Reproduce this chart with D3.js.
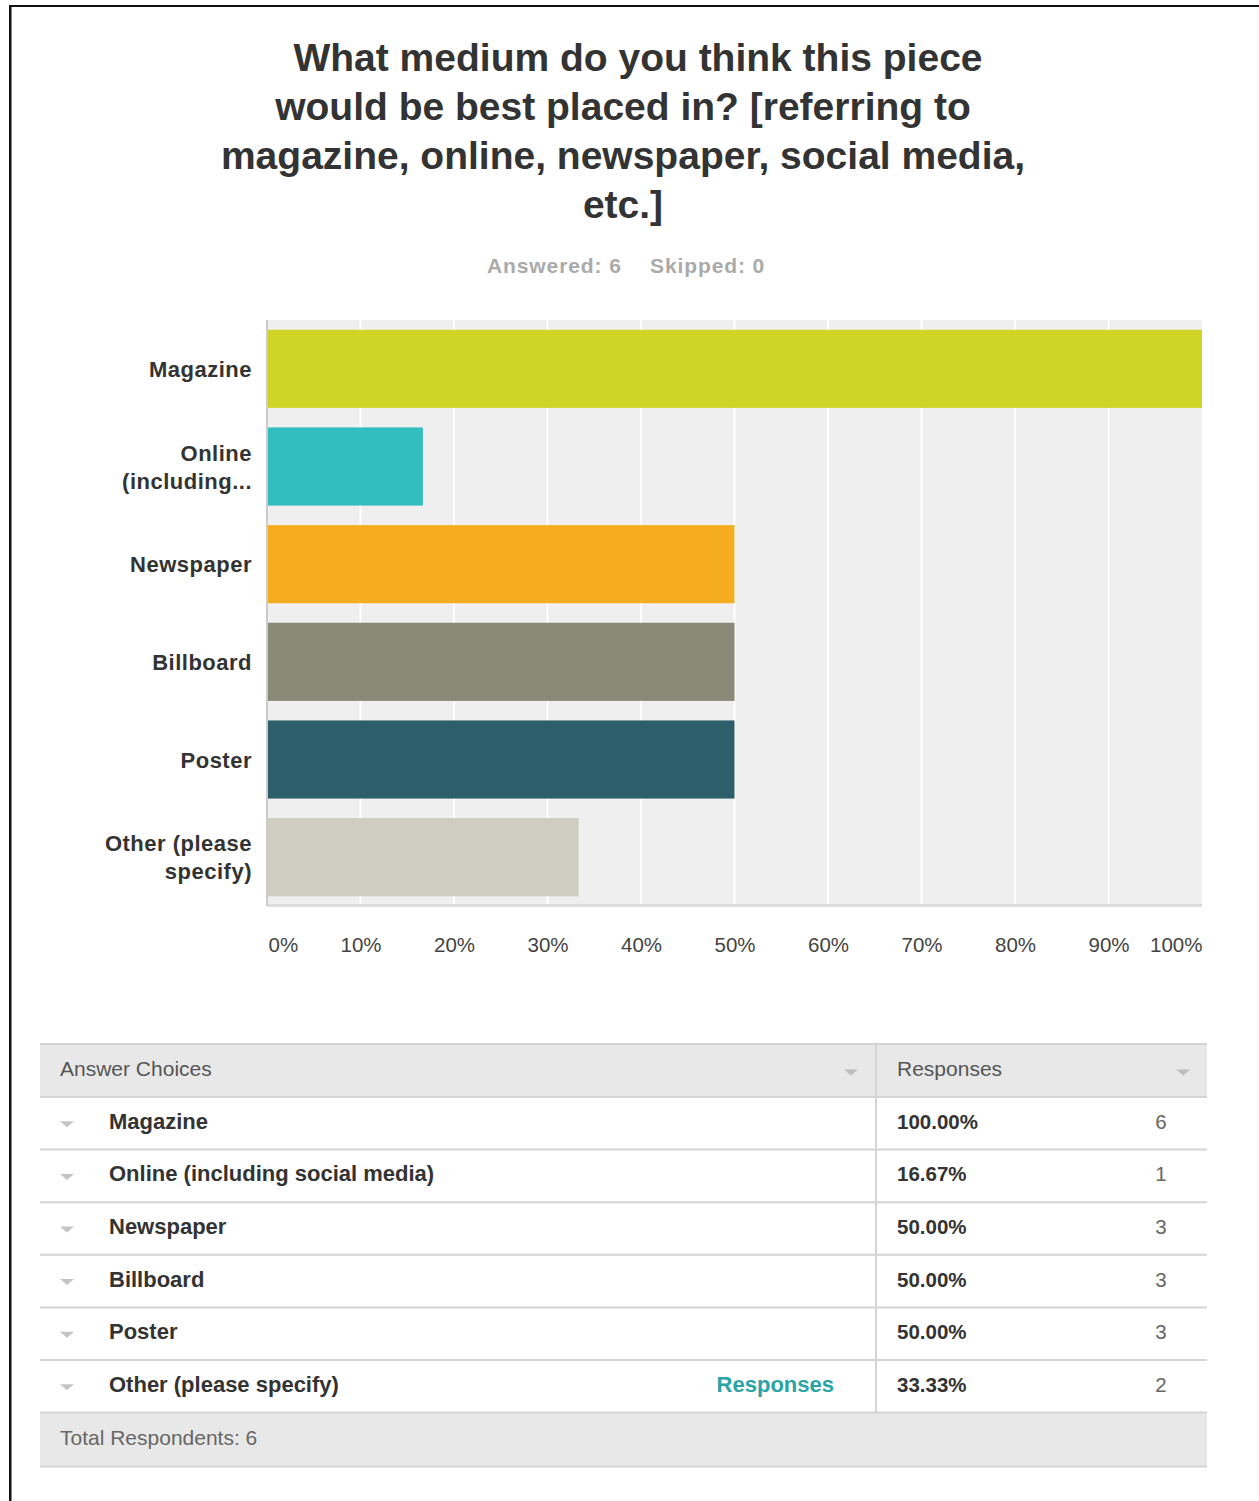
<!DOCTYPE html>
<html>
<head>
<meta charset="utf-8">
<script src="https://cdn.jsdelivr.net/npm/d3@7"></script>
<style>
  html, body { margin: 0; padding: 0; background: #fff; }
  svg { display: block; font-family: "Liberation Sans", Arial, sans-serif; }
</style>
</head>
<body>
<svg id="chart" width="1259" height="1501"></svg>
<script>
// Survey question and summary
const titleLines = [
  "What medium do you think this piece",
  "would be best placed in? [referring to",
  "magazine, online, newspaper, social media,",
  "etc.]"
];
const answered = 6;
const skipped = 0;
const totalRespondents = 6;

// Answer choices, shortened axis labels, response shares (%) and counts
const categories = ["Magazine", "Online (including social media)", "Newspaper", "Billboard", "Poster", "Other (please specify)"];
const axisLabels = [["Magazine"], ["Online", "(including..."], ["Newspaper"], ["Billboard"], ["Poster"], ["Other (please", "specify)"]];
const percents = [100, 16.67, 50, 50, 50, 33.33];
const counts = [6, 1, 3, 3, 3, 2];
const barColors = ["#cfd427", "#32bdbe", "#f5ad1f", "#8a8a79", "#2d5f6b", "#cfcdbf"];
const tickValues = [0, 10, 20, 30, 40, 50, 60, 70, 80, 90, 100];

const svg = d3.select("#chart");

// frame lines
svg.append("rect").attr("x", 9).attr("y", 5).attr("width", 1250).attr("height", 2).attr("fill", "#111");
svg.append("rect").attr("x", 9).attr("y", 5).attr("width", 2.5).attr("height", 1496).attr("fill", "#111");

// title
svg.append("g").selectAll("text").data(titleLines).join("text")
  .attr("x", (d, i) => i === 0 ? 638 : 623)
  .attr("y", (d, i) => 71 + i * 49)
  .attr("text-anchor", "middle")
  .attr("font-size", 39)
  .attr("font-weight", "bold")
  .attr("fill", "#333")
  .text(d => d);

// answered / skipped
const stats = svg.append("text").attr("y", 273).attr("font-size", 21).attr("font-weight", "bold")
  .attr("letter-spacing", 0.9).attr("fill", "#aaa");
stats.append("tspan").attr("x", 487).text("Answered: " + answered);
stats.append("tspan").attr("x", 650).text("Skipped: " + skipped);

// scales
const x = d3.scaleLinear().domain([0, 100]).range([267, 1202]);
const y = d3.scaleBand().domain(categories).range([320, 906]).paddingInner(0.2).paddingOuter(0.1);

// plot background and grid
svg.append("rect").attr("x", x(0)).attr("y", 320).attr("width", x(100) - x(0)).attr("height", 584).attr("fill", "#efefef");
svg.append("g").selectAll("line").data(tickValues.filter(t => t > 0 && t < 100)).join("line")
  .attr("x1", d => x(d)).attr("x2", d => x(d)).attr("y1", 320).attr("y2", 904)
  .attr("stroke", "#fff").attr("stroke-width", 2);
svg.append("rect").attr("x", x(0)).attr("y", 904).attr("width", x(100) - x(0)).attr("height", 3).attr("fill", "#dcdcdc");

// bars
svg.append("g").selectAll("rect").data(categories).join("rect")
  .attr("x", x(0) + 1)
  .attr("y", d => y(d))
  .attr("width", (d, i) => x(percents[i]) - x(0) - 1)
  .attr("height", y.bandwidth())
  .attr("fill", (d, i) => barColors[i]);

// left axis line
svg.append("line").attr("x1", x(0)).attr("x2", x(0)).attr("y1", 320).attr("y2", 906)
  .attr("stroke", "#cccccc").attr("stroke-width", 2);

// category labels
const lab = svg.append("g").selectAll("text").data(categories).join("text")
  .attr("text-anchor", "end")
  .attr("font-size", 22)
  .attr("font-weight", "bold")
  .attr("letter-spacing", 0.5)
  .attr("fill", "#333");
lab.each(function (d, i) {
  const lines = axisLabels[i];
  const cy = y(d) + y.bandwidth() / 2;
  d3.select(this).selectAll("tspan").data(lines).join("tspan")
    .attr("x", 252)
    .attr("y", (l, j) => cy + 8 + (j - (lines.length - 1) / 2) * 28)
    .text(l => l);
});

// x axis labels
const xAxis = svg.append("g").attr("transform", "translate(0,935)")
  .call(d3.axisBottom(x).tickValues(tickValues).tickFormat(d => d + "%").tickSize(0).tickPadding(0));
xAxis.select(".domain").remove();
xAxis.selectAll("text")
  .attr("font-family", "'Liberation Sans', Arial, sans-serif")
  .attr("font-size", 20.5)
  .attr("fill", "#444")
  .attr("dy", "0.84em")
  .attr("x", d => d === 0 ? 1 : 0)
  .attr("text-anchor", d => d === 0 ? "start" : (d === 100 ? "end" : "middle"));

// ---- table of responses ----
const tLeft = 40, tRight = 1207, tDiv = 876;
const headTop = 1044, rowH = 52.6;
const headBottom = headTop + 53;
const rowTop = i => headBottom + i * rowH;
const footTop = rowTop(categories.length);
const footBottom = footTop + 54;
const lineCol = "#d4d4d4";

svg.append("rect").attr("x", tLeft).attr("y", headTop).attr("width", tRight - tLeft).attr("height", headBottom - headTop).attr("fill", "#e8e8e8");
svg.append("rect").attr("x", tLeft).attr("y", footTop).attr("width", tRight - tLeft).attr("height", footBottom - footTop).attr("fill", "#e8e8e8");

const hLines = [headTop, headBottom].concat(categories.map((d, i) => rowTop(i + 1))).concat([footBottom]);
svg.append("g").selectAll("line").data(hLines).join("line")
  .attr("x1", tLeft).attr("x2", tRight).attr("y1", d => d).attr("y2", d => d)
  .attr("stroke", lineCol).attr("stroke-width", 2);
svg.append("line").attr("x1", tDiv).attr("x2", tDiv).attr("y1", headTop).attr("y2", footTop)
  .attr("stroke", lineCol).attr("stroke-width", 2);

const tri = (cx, cy, w, h) => `M${cx - w / 2},${cy - h / 2}L${cx + w / 2},${cy - h / 2}L${cx},${cy + h / 2}Z`;

// header
const headMid = (headTop + headBottom) / 2;
svg.append("text").attr("x", 60).attr("y", headMid + 5.5).attr("font-size", 21).attr("fill", "#555").text("Answer Choices");
svg.append("text").attr("x", 897).attr("y", headMid + 5.5).attr("font-size", 21).attr("fill", "#555").text("Responses");
svg.append("path").attr("d", tri(851, headMid + 2, 14, 6)).attr("fill", "#bdbdbd");
svg.append("path").attr("d", tri(1183, headMid + 2, 14, 6)).attr("fill", "#bdbdbd");

// rows
const rows = svg.append("g").selectAll("g").data(categories).join("g")
  .attr("transform", (d, i) => `translate(0,${rowTop(i) + rowH / 2})`);
rows.append("path").attr("d", tri(67, 1, 14, 6)).attr("fill", "#c4c4c4");
rows.append("text").attr("x", 109).attr("y", 5.5).attr("font-size", 22).attr("font-weight", "bold").attr("fill", "#333").text(d => d);
rows.append("text").attr("x", 897).attr("y", 5.5).attr("font-size", 20.5).attr("font-weight", "bold").attr("fill", "#333")
  .text((d, i) => percents[i].toFixed(2) + "%");
rows.append("text").attr("x", 1161).attr("y", 5.5).attr("text-anchor", "middle").attr("font-size", 20.5).attr("fill", "#666")
  .text((d, i) => counts[i]);
rows.filter((d, i) => i === categories.length - 1)
  .append("text").attr("x", 834).attr("y", 5.5).attr("text-anchor", "end").attr("font-size", 22).attr("font-weight", "bold")
  .attr("fill", "#29a3a6").text("Responses");

// footer
svg.append("text").attr("x", 60).attr("y", (footTop + footBottom) / 2 + 5.5).attr("font-size", 21).attr("fill", "#666")
  .text("Total Respondents: " + totalRespondents);
</script>
</body>
</html>
